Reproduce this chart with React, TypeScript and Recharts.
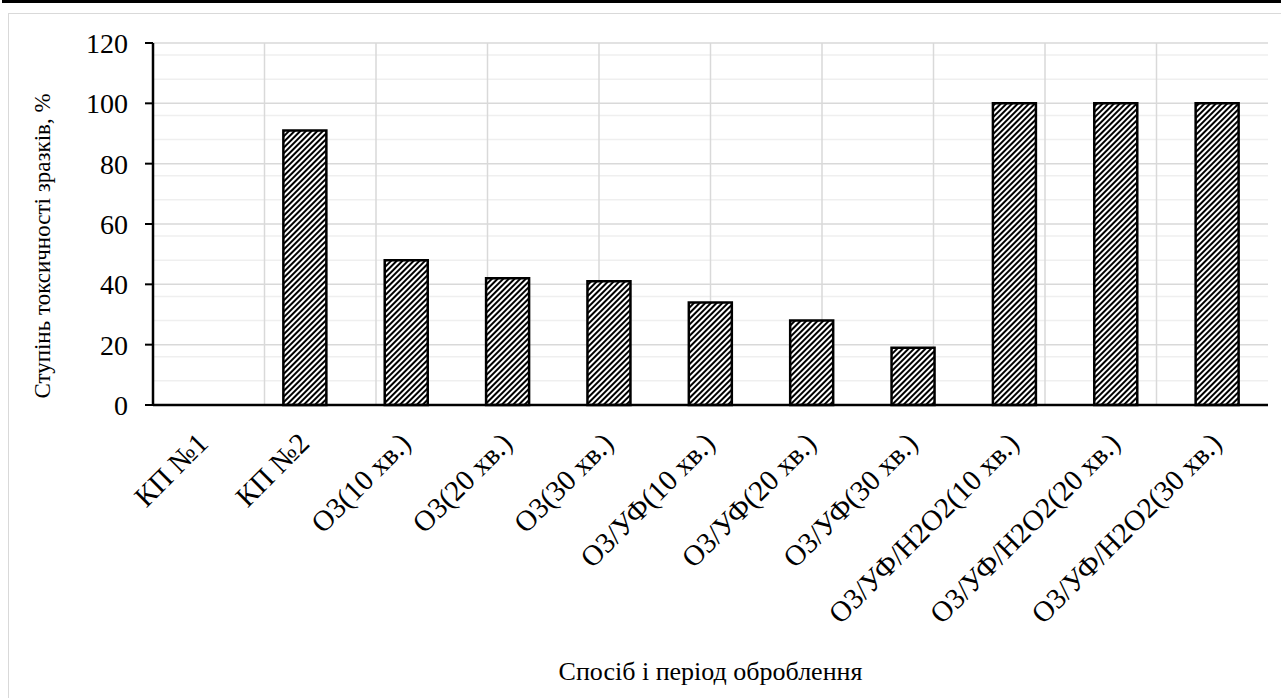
import { Bar, BarChart, CartesianGrid, Label, XAxis, YAxis } from 'recharts'

const categories = [
  'КП №1',
  'КП №2',
  'О3(10 хв.)',
  'О3(20 хв.)',
  'О3(30 хв.)',
  'О3/УФ(10 хв.)',
  'О3/УФ(20 хв.)',
  'О3/УФ(30 хв.)',
  'О3/УФ/Н2О2(10 хв.)',
  'О3/УФ/Н2О2(20 хв.)',
  'О3/УФ/Н2О2(30 хв.)',
]
const toxicity = [0, 91, 48, 42, 41, 34, 28, 19, 100, 100, 100]
const yTicks = [0, 20, 40, 60, 80, 100, 120]
const minorTicks = [4, 8, 12, 16, 24, 28, 32, 36, 44, 48, 52, 56, 64, 68, 72, 76, 84, 88, 92, 96, 104, 108, 112, 116]
const boundaries = [0, 1, 2, 3, 4, 5, 6, 7, 8, 9, 10, 11]

const data = categories.map((name, i) => ({ name, value: toxicity[i] }))

const FONT = "'Liberation Serif', 'Times New Roman', serif"

const CatTick = (props: any) => {
  const { x, y, payload } = props
  const ax = x + 6
  const ay = y + 40
  return (
    <text
      x={ax}
      y={ay}
      transform={`rotate(-45, ${ax}, ${ay})`}
      textAnchor="end"
      fill="#000"
      style={{ fontSize: 29, fontFamily: FONT }}
    >
      {payload.value}
    </text>
  )
}

export default function App() {
  return (
    <div style={{ position: 'absolute', left: 0, top: 0, width: 1281, height: 698, overflow: 'hidden', background: '#fff', fontFamily: FONT }}>
      {/* bottom edge of the document table above the chart */}
      <div style={{ position: 'absolute', left: 2, top: 0, width: 1290, height: 3, background: '#000' }} />
      <div style={{ position: 'absolute', left: 8, top: 13, width: 1300, height: 720, border: '1.5px solid #d9d9d9' }} />
      <div style={{ position: 'absolute', left: 0, top: 0 }}>
        <BarChart width={1281} height={698} data={data} margin={{ top: 43, right: 13, bottom: 0, left: 0 }}>
          <defs>
            <pattern id="hatch" patternUnits="userSpaceOnUse" width="4" height="4" patternTransform="rotate(45)">
              <rect width="4" height="4" fill="#fff" />
              <rect width="2" height="4" fill="#000" />
            </pattern>
          </defs>
          <XAxis xAxisId="grid" type="number" domain={[0, 11]} ticks={boundaries} hide />
          <XAxis
            xAxisId="cat"
            dataKey="name"
            height={293}
            tickLine={false}
            tickSize={0}
            tickMargin={0}
            interval={0}
            axisLine={{ stroke: '#000', strokeWidth: 2.5 }}
            tick={<CatTick />}
          >
            <Label
              content={(p: any) => {
                const vb = p.viewBox
                const cx = vb.x + vb.width / 2
                return (
                  <text x={cx} y={680} textAnchor="middle" fill="#000" style={{ fontSize: 26, fontFamily: FONT }}>
                    Спосіб і період оброблення
                  </text>
                )
              }}
            />
          </XAxis>
          <YAxis
            yAxisId="y"
            domain={[0, 120]}
            ticks={yTicks}
            width={153}
            tickSize={8}
            tickMargin={17}
            axisLine={{ stroke: '#000', strokeWidth: 2.5 }}
            tickLine={{ stroke: '#000', strokeWidth: 2 }}
            tick={{ fill: '#000', fontSize: 28, style: { fontFamily: FONT } }}
          >
            <Label
              content={(p: any) => {
                const vb = p.viewBox
                const cy = vb.y + vb.height / 2 + 22
                return (
                  <text
                    x={42}
                    y={cy}
                    transform={`rotate(-90, 42, ${cy})`}
                    textAnchor="middle"
                    dominantBaseline="central"
                    fill="#000"
                    style={{ fontSize: 23, fontFamily: FONT }}
                  >
                    Ступінь токсичності зразків, %
                  </text>
                )
              }}
            />
          </YAxis>
          <CartesianGrid xAxisId="cat" yAxisId="y" vertical={false} horizontalValues={minorTicks} stroke="#efefef" strokeWidth={1.5} />
          <CartesianGrid xAxisId="cat" yAxisId="y" vertical={false} stroke="#d9d9d9" strokeWidth={1.5} />
          <CartesianGrid xAxisId="grid" yAxisId="y" horizontal={false} verticalValues={boundaries} stroke="#d9d9d9" strokeWidth={1.5} />
          <Bar
            xAxisId="cat"
            yAxisId="y"
            dataKey="value"
            fill="url(#hatch)"
            stroke="#000"
            strokeWidth={2.5}
            barSize={43}
            isAnimationActive={false}
          />
        </BarChart>
      </div>
    </div>
  )
}
